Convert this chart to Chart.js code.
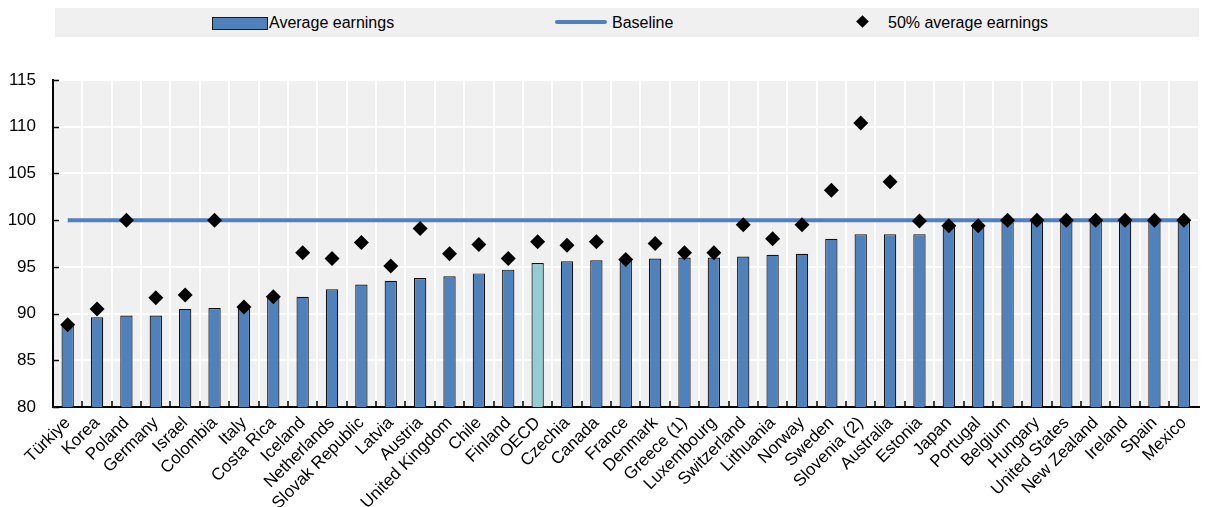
<!DOCTYPE html>
<html>
<head>
<meta charset="utf-8">
<script src="https://cdn.jsdelivr.net/npm/chart.js@4/dist/chart.umd.min.js"></script>
<style>
  html, body { margin: 0; padding: 0; background: #fff; }
  #wrap { position: relative; width: 1206px; height: 507px; }
  #chart { position: absolute; left: 0; top: 0; }
  #legend {
    position: absolute; left: 55px; top: 8px; width: 1144px; height: 29px;
    background: #f0f0f0; font-family: "Liberation Sans", Arial, sans-serif; font-size: 16px; color: #000;
  }
  #legend .item { position: absolute; top: 0; height: 29px; line-height: 29px; white-space: nowrap; }
  #legend .bar { position: absolute; left: 157px; top: 9px; width: 54px; height: 11px; background: #4f81bd; border: 1px solid #1a1a1a; }
  #legend .line { position: absolute; left: 500px; top: 12px; width: 52px; height: 4px; background: #4f81bd; border-radius: 2px; }
  #legend .dia { position: absolute; left: 803px; top: 9px; width: 9px; height: 9px; background: #000; transform: rotate(45deg); }
</style>
</head>
<body>
<div id="wrap">
  <canvas id="chart" width="1206" height="507"></canvas>
  <div id="legend">
    <span class="bar"></span><span class="item" style="left:214px">Average earnings</span>
    <span class="line"></span><span class="item" style="left:557px">Baseline</span>
    <span class="dia"></span><span class="item" style="left:833px">50% average earnings</span>
  </div>
</div>
<script>
"use strict";

const countries = ["Türkiye", "Korea", "Poland", "Germany", "Israel", "Colombia", "Italy", "Costa Rica", "Iceland",
  "Netherlands", "Slovak Republic", "Latvia", "Austria", "United Kingdom", "Chile", "Finland", "OECD", "Czechia",
  "Canada", "France", "Denmark", "Greece (1)", "Luxembourg", "Switzerland", "Lithuania", "Norway", "Sweden",
  "Slovenia (2)", "Australia", "Estonia", "Japan", "Portugal", "Belgium", "Hungary", "United States", "New Zealand",
  "Ireland", "Spain", "Mexico"];

// bars
const avgEarnings = [88.8, 89.6, 89.8, 89.8, 90.5, 90.6, 90.7, 91.8, 91.8, 92.6, 93.1, 93.5, 93.8, 94.0, 94.3, 94.7,
  95.4, 95.6, 95.7, 95.8, 95.9, 96.0, 96.0, 96.1, 96.3, 96.4, 98.0, 98.5, 98.5, 98.5, 99.4, 99.4, 99.8, 100, 100,
  100, 100, 100, 100];

// diamonds
const halfEarnings = [88.8, 90.5, 100, 91.7, 92.0, 100, 90.7, 91.8, 96.5, 95.9, 97.6, 95.1, 99.1, 96.4, 97.4, 95.9,
  97.7, 97.3, 97.7, 95.8, 97.5, 96.5, 96.5, 99.5, 98.0, 99.5, 103.2, 110.4, 104.1, 99.9, 99.4, 99.4, 100, 100, 100,
  100, 100, 100, 100];

const baseline = [100, 100, 100, 100, 100, 100, 100, 100, 100, 100, 100, 100, 100, 100, 100, 100, 100, 100, 100, 100,
  100, 100, 100, 100, 100, 100, 100, 100, 100, 100, 100, 100, 100, 100, 100, 100, 100, 100, 100];

const yTicks = [80, 85, 90, 95, 100, 105, 110, 115];

const FONT = "'Liberation Sans', Arial, sans-serif";

// OECD bar gets the light colour
const barColors = countries.map(c => (c === "OECD" ? "#92cdd3" : "#4f81bd"));

// grey plot area + small inside ticks
const plotDeco = {
  id: "plotDeco",
  beforeDraw(chart) {
    const a = chart.chartArea;
    const ctx = chart.ctx;
    ctx.save();
    ctx.fillStyle = "#f0f0f0";
    ctx.fillRect(a.left, a.top, a.right - a.left, a.bottom - a.top);
    ctx.restore();
  },
  afterDraw(chart) {
    const a = chart.chartArea;
    const ctx = chart.ctx;
    const x = chart.scales.x;
    const y = chart.scales.y;
    ctx.save();
    ctx.strokeStyle = "#000";
    ctx.lineWidth = 1.5;
    ctx.beginPath();
    yTicks.forEach(v => {
      const py = Math.round(y.getPixelForValue(v)) + 0.5;
      ctx.moveTo(a.left, py);
      ctx.lineTo(a.left + 6, py);
    });
    for (let i = 1; i < countries.length; i++) {
      const px = Math.round((x.getPixelForValue(i - 1) + x.getPixelForValue(i)) / 2);
      ctx.moveTo(px, a.bottom);
      ctx.lineTo(px, a.bottom - 6);
    }
    ctx.stroke();
    ctx.restore();
  }
};

new Chart(document.getElementById("chart").getContext("2d"), {
  data: {
    labels: countries,
    datasets: [
      {
        type: "scatter",
        label: "50% average earnings",
        data: halfEarnings,
        pointStyle: "rectRot",
        pointRadius: 7.5,
        backgroundColor: "#000",
        borderColor: "#000",
        borderWidth: 0,
        showLine: false,
        order: 0
      },
      {
        type: "line",
        label: "Baseline",
        data: baseline,
        borderColor: "#4f81bd",
        borderWidth: 4,
        pointRadius: 0,
        order: 1
      },
      {
        type: "bar",
        label: "Average earnings",
        data: avgEarnings,
        backgroundColor: barColors,
        borderColor: "#111",
        borderWidth: 1.2,
        barPercentage: 0.42,
        categoryPercentage: 1,
        order: 2
      }
    ]
  },
  options: {
    responsive: false,
    animation: false,
    layout: { padding: { top: 80, right: 7, left: 0, bottom: 0 } },
    plugins: {
      legend: { display: false },
      tooltip: { enabled: false }
    },
    scales: {
      x: {
        type: "category",
        offset: true,
        grid: { offset: true, color: "#ffffff", lineWidth: 2, drawTicks: false },
        border: { display: true, color: "#000", width: 2 },
        ticks: {
          color: "#000",
          font: { family: FONT, size: 17 },
          minRotation: 45,
          maxRotation: 45,
          autoSkip: false,
          padding: 6
        },
        afterFit(scale) { scale.height = 100; }
      },
      y: {
        min: 80,
        max: 115,
        ticks: {
          stepSize: 5,
          color: "#000",
          font: { family: FONT, size: 17 },
          padding: 17
        },
        grid: { color: "#ffffff", lineWidth: 2, drawTicks: false },
        border: { display: true, color: "#000", width: 2 },
        afterFit(scale) { scale.width = 53; }
      }
    }
  },
  plugins: [plotDeco]
});
</script>
</body>
</html>
